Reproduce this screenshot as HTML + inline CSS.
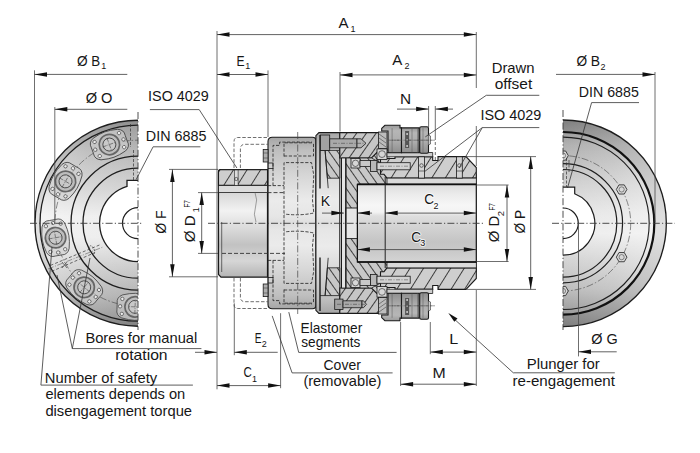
<!DOCTYPE html>
<html><head><meta charset="utf-8"><style>
html,body{margin:0;padding:0;background:#fff;}
svg{display:block;}
text{font-family:"Liberation Sans",sans-serif;}
</style></head><body>
<svg width="700" height="453" viewBox="0 0 700 453">
<rect width="700" height="453" fill="#fff"/>
<defs>
<linearGradient id="discL" x1="0" y1="120" x2="0" y2="326" gradientUnits="userSpaceOnUse">
 <stop offset="0" stop-color="#9a9a9a"/><stop offset="0.15" stop-color="#b8b8b8"/>
 <stop offset="0.35" stop-color="#d6d6d6"/><stop offset="0.47" stop-color="#eeeeee"/>
 <stop offset="0.57" stop-color="#ececec"/><stop offset="0.7" stop-color="#d0d0d0"/>
 <stop offset="0.85" stop-color="#b4b4b4"/><stop offset="1" stop-color="#8c8c8c"/></linearGradient>
<linearGradient id="hovL" x1="138" y1="0" x2="35" y2="0" gradientUnits="userSpaceOnUse">
 <stop offset="0" stop-color="#fff" stop-opacity="0"/><stop offset="0.5" stop-color="#fff" stop-opacity="0.12"/><stop offset="1" stop-color="#fff" stop-opacity="0.4"/></linearGradient>
<linearGradient id="hovR" x1="563" y1="0" x2="666" y2="0" gradientUnits="userSpaceOnUse">
 <stop offset="0" stop-color="#fff" stop-opacity="0"/><stop offset="0.5" stop-color="#fff" stop-opacity="0.15"/><stop offset="1" stop-color="#fff" stop-opacity="0.42"/></linearGradient>
<radialGradient id="boreL" cx="0.5" cy="0.55" r="0.6">
 <stop offset="0" stop-color="#ffffff"/><stop offset="0.6" stop-color="#f0f0f0"/><stop offset="1" stop-color="#d4d4d4"/></radialGradient>
<linearGradient id="hubR" x1="0" y1="0" x2="0" y2="1">
 <stop offset="0" stop-color="#d8d8d8"/><stop offset="0.5" stop-color="#ececec"/><stop offset="1" stop-color="#cfcfcf"/></linearGradient>
<linearGradient id="discR" x1="0" y1="120" x2="0" y2="326" gradientUnits="userSpaceOnUse">
 <stop offset="0" stop-color="#8a8a8a"/><stop offset="0.12" stop-color="#b0b0b0"/>
 <stop offset="0.3" stop-color="#cfcfcf"/><stop offset="0.45" stop-color="#e6e6e6"/>
 <stop offset="0.55" stop-color="#ededed"/><stop offset="0.68" stop-color="#d4d4d4"/>
 <stop offset="0.82" stop-color="#bdbdbd"/><stop offset="1" stop-color="#8a8a8a"/></linearGradient>
<linearGradient id="bore" x1="0" y1="0" x2="0" y2="1">
 <stop offset="0" stop-color="#d0d0d0"/><stop offset="0.3" stop-color="#f2f2f2"/>
 <stop offset="0.55" stop-color="#ffffff"/><stop offset="0.8" stop-color="#d8d8d8"/>
 <stop offset="1" stop-color="#b8b8b8"/></linearGradient>
<linearGradient id="metal" x1="0" y1="0" x2="0" y2="1">
 <stop offset="0" stop-color="#bdbdbd"/><stop offset="0.25" stop-color="#e4e4e4"/>
 <stop offset="0.45" stop-color="#f7f7f7"/><stop offset="0.7" stop-color="#c9c9c9"/>
 <stop offset="1" stop-color="#a8a8a8"/></linearGradient>
<linearGradient id="flange" x1="0" y1="0" x2="0" y2="1">
 <stop offset="0" stop-color="#a9a9a9"/><stop offset="0.15" stop-color="#c6c6c6"/>
 <stop offset="0.45" stop-color="#dcdcdc"/><stop offset="0.6" stop-color="#d4d4d4"/>
 <stop offset="0.85" stop-color="#c0c0c0"/><stop offset="1" stop-color="#9e9e9e"/></linearGradient>
<linearGradient id="plunger" x1="0" y1="0" x2="0" y2="1">
 <stop offset="0" stop-color="#8a8a8a"/><stop offset="0.3" stop-color="#b0b0b0"/>
 <stop offset="0.55" stop-color="#9a9a9a"/><stop offset="1" stop-color="#6e6e6e"/></linearGradient>
<pattern id="hatchA" patternUnits="userSpaceOnUse" width="6" height="6" patternTransform="rotate(45)">
 <rect width="6" height="6" fill="#c4c4c4"/><line x1="0" y1="0" x2="0" y2="6" stroke="#3c3c3c" stroke-width="0.8"/></pattern>
<pattern id="hatchB" patternUnits="userSpaceOnUse" width="6" height="6" patternTransform="rotate(-45)">
 <rect width="6" height="6" fill="#c8c8c8"/><line x1="0" y1="0" x2="0" y2="6" stroke="#3c3c3c" stroke-width="0.8"/></pattern>
<clipPath id="clipL"><rect x="0" y="0" width="138" height="453"/></clipPath>
<clipPath id="clipR"><rect x="563" y="0" width="137" height="453"/></clipPath>
</defs>
<g clip-path="url(#clipL)">
<circle cx="138" cy="223.2" r="103" fill="url(#discL)" stroke="#1e1e1e" stroke-width="1.4"/>
<circle cx="138" cy="223.2" r="102.3" fill="url(#hovL)"/>
<circle cx="138" cy="223.2" r="100.5" fill="none" stroke="#000" stroke-opacity="0.07" stroke-width="5"/>
<circle cx="138" cy="223.2" r="98" fill="none" stroke="#1e1e1e" stroke-width="1.3"/>
<circle cx="138" cy="223.2" r="67" fill="none" stroke="#1e1e1e" stroke-width="1.3"/>
<circle cx="138" cy="223.2" r="55" fill="none" stroke="#1e1e1e" stroke-width="1.3"/>
<path d="M138,180.29999999999998 L127,180.29999999999998 L127,186.41 A38.4,38.4 0 1 0 149,186.41 L149,180.29999999999998 Z" fill="#fff" stroke="#1e1e1e" stroke-width="1.3"/>
<circle cx="138" cy="223.2" r="15.5" fill="#fff" stroke="#1e1e1e" stroke-width="1.2"/>
<circle cx="138" cy="223.2" r="83" fill="none" stroke="#444" stroke-width="0.6" stroke-dasharray="7,2,1.5,2"/>
<g transform="translate(109.37,144.55) rotate(-20)">
<path d="M-18,-3 Q-19,-9 -13,-11.5 L-6,-13 Q0,-14 6,-13 L13,-11.5 Q19,-9 18,-3 L18,3 Q19,9 13,11.5 L6,13 Q0,14 -6,13 L-13,11.5 Q-19,9 -18,3 Z" fill="#cfcfcf" fill-opacity="0.6" stroke="#3a3a3a" stroke-width="0.75"/>
<circle r="10.2" fill="#bdbdbd" stroke="#666" stroke-width="1.7"/>
<circle r="6.5" fill="#c9c9c9" stroke="#3a3a3a" stroke-width="0.8"/>
<circle cx="-15" cy="0" r="1.7" fill="#ececec" stroke="#333" stroke-width="0.6"/>
<circle cx="15" cy="0" r="1.7" fill="#ececec" stroke="#333" stroke-width="0.6"/>
<circle cx="-13" cy="-7.5" r="1.7" fill="#ececec" stroke="#333" stroke-width="0.6"/>
<circle cx="-13" cy="7.5" r="1.7" fill="#ececec" stroke="#333" stroke-width="0.6"/>
<circle cx="13" cy="-7.5" r="1.7" fill="#ececec" stroke="#333" stroke-width="0.6"/>
<circle cx="13" cy="7.5" r="1.7" fill="#ececec" stroke="#333" stroke-width="0.6"/>
<line x1="-7" y1="0" x2="7" y2="0" stroke="#333" stroke-width="0.5" stroke-dasharray="4,1,1,1"/><line x1="0" y1="-7" x2="0" y2="7" stroke="#333" stroke-width="0.5" stroke-dasharray="4,1,1,1"/>
</g>
<g transform="translate(65.51,181.35) rotate(-60)">
<path d="M-18,-3 Q-19,-9 -13,-11.5 L-6,-13 Q0,-14 6,-13 L13,-11.5 Q19,-9 18,-3 L18,3 Q19,9 13,11.5 L6,13 Q0,14 -6,13 L-13,11.5 Q-19,9 -18,3 Z" fill="#cfcfcf" fill-opacity="0.6" stroke="#3a3a3a" stroke-width="0.75"/>
<circle r="10.2" fill="#bdbdbd" stroke="#666" stroke-width="1.7"/>
<circle r="6.5" fill="#c9c9c9" stroke="#3a3a3a" stroke-width="0.8"/>
<circle cx="-15" cy="0" r="1.7" fill="#ececec" stroke="#333" stroke-width="0.6"/>
<circle cx="15" cy="0" r="1.7" fill="#ececec" stroke="#333" stroke-width="0.6"/>
<circle cx="-13" cy="-7.5" r="1.7" fill="#ececec" stroke="#333" stroke-width="0.6"/>
<circle cx="-13" cy="7.5" r="1.7" fill="#ececec" stroke="#333" stroke-width="0.6"/>
<circle cx="13" cy="-7.5" r="1.7" fill="#ececec" stroke="#333" stroke-width="0.6"/>
<circle cx="13" cy="7.5" r="1.7" fill="#ececec" stroke="#333" stroke-width="0.6"/>
<line x1="-7" y1="0" x2="7" y2="0" stroke="#333" stroke-width="0.5" stroke-dasharray="4,1,1,1"/><line x1="0" y1="-7" x2="0" y2="7" stroke="#333" stroke-width="0.5" stroke-dasharray="4,1,1,1"/>
</g>
<g transform="translate(55.57,237.73) rotate(-100)">
<path d="M-18,-3 Q-19,-9 -13,-11.5 L-6,-13 Q0,-14 6,-13 L13,-11.5 Q19,-9 18,-3 L18,3 Q19,9 13,11.5 L6,13 Q0,14 -6,13 L-13,11.5 Q-19,9 -18,3 Z" fill="#cfcfcf" fill-opacity="0.6" stroke="#3a3a3a" stroke-width="0.75"/>
<circle r="10.2" fill="#bdbdbd" stroke="#666" stroke-width="1.7"/>
<circle r="6.5" fill="#c9c9c9" stroke="#3a3a3a" stroke-width="0.8"/>
<circle cx="-15" cy="0" r="1.7" fill="#ececec" stroke="#333" stroke-width="0.6"/>
<circle cx="15" cy="0" r="1.7" fill="#ececec" stroke="#333" stroke-width="0.6"/>
<circle cx="-13" cy="-7.5" r="1.7" fill="#ececec" stroke="#333" stroke-width="0.6"/>
<circle cx="-13" cy="7.5" r="1.7" fill="#ececec" stroke="#333" stroke-width="0.6"/>
<circle cx="13" cy="-7.5" r="1.7" fill="#ececec" stroke="#333" stroke-width="0.6"/>
<circle cx="13" cy="7.5" r="1.7" fill="#ececec" stroke="#333" stroke-width="0.6"/>
<line x1="-7" y1="0" x2="7" y2="0" stroke="#333" stroke-width="0.5" stroke-dasharray="4,1,1,1"/><line x1="0" y1="-7" x2="0" y2="7" stroke="#333" stroke-width="0.5" stroke-dasharray="4,1,1,1"/>
</g>
<g transform="translate(84.20,287.32) rotate(-140)">
<path d="M-18,-3 Q-19,-9 -13,-11.5 L-6,-13 Q0,-14 6,-13 L13,-11.5 Q19,-9 18,-3 L18,3 Q19,9 13,11.5 L6,13 Q0,14 -6,13 L-13,11.5 Q-19,9 -18,3 Z" fill="#cfcfcf" fill-opacity="0.6" stroke="#3a3a3a" stroke-width="0.75"/>
<circle r="10.2" fill="#bdbdbd" stroke="#666" stroke-width="1.7"/>
<circle r="6.5" fill="#c9c9c9" stroke="#3a3a3a" stroke-width="0.8"/>
<circle cx="-15" cy="0" r="1.7" fill="#ececec" stroke="#333" stroke-width="0.6"/>
<circle cx="15" cy="0" r="1.7" fill="#ececec" stroke="#333" stroke-width="0.6"/>
<circle cx="-13" cy="-7.5" r="1.7" fill="#ececec" stroke="#333" stroke-width="0.6"/>
<circle cx="-13" cy="7.5" r="1.7" fill="#ececec" stroke="#333" stroke-width="0.6"/>
<circle cx="13" cy="-7.5" r="1.7" fill="#ececec" stroke="#333" stroke-width="0.6"/>
<circle cx="13" cy="7.5" r="1.7" fill="#ececec" stroke="#333" stroke-width="0.6"/>
<line x1="-7" y1="0" x2="7" y2="0" stroke="#333" stroke-width="0.5" stroke-dasharray="4,1,1,1"/><line x1="0" y1="-7" x2="0" y2="7" stroke="#333" stroke-width="0.5" stroke-dasharray="4,1,1,1"/>
</g>
<g transform="translate(135.08,306.85) rotate(-178)">
<path d="M-18,-3 Q-19,-9 -13,-11.5 L-6,-13 Q0,-14 6,-13 L13,-11.5 Q19,-9 18,-3 L18,3 Q19,9 13,11.5 L6,13 Q0,14 -6,13 L-13,11.5 Q-19,9 -18,3 Z" fill="#cfcfcf" fill-opacity="0.6" stroke="#3a3a3a" stroke-width="0.75"/>
<circle r="10.2" fill="#bdbdbd" stroke="#666" stroke-width="1.7"/>
<circle r="6.5" fill="#c9c9c9" stroke="#3a3a3a" stroke-width="0.8"/>
<circle cx="-15" cy="0" r="1.7" fill="#ececec" stroke="#333" stroke-width="0.6"/>
<circle cx="15" cy="0" r="1.7" fill="#ececec" stroke="#333" stroke-width="0.6"/>
<circle cx="-13" cy="-7.5" r="1.7" fill="#ececec" stroke="#333" stroke-width="0.6"/>
<circle cx="-13" cy="7.5" r="1.7" fill="#ececec" stroke="#333" stroke-width="0.6"/>
<circle cx="13" cy="-7.5" r="1.7" fill="#ececec" stroke="#333" stroke-width="0.6"/>
<circle cx="13" cy="7.5" r="1.7" fill="#ececec" stroke="#333" stroke-width="0.6"/>
<line x1="-7" y1="0" x2="7" y2="0" stroke="#333" stroke-width="0.5" stroke-dasharray="4,1,1,1"/><line x1="0" y1="-7" x2="0" y2="7" stroke="#333" stroke-width="0.5" stroke-dasharray="4,1,1,1"/>
</g>
<path d="M50.5,265.4 L99.7,244.9 M51.6,271.4 L94.7,252.7" fill="none" stroke="#333" stroke-width="0.7" stroke-dasharray="3,2"/>
<path d="M48,269 L103,247" fill="none" stroke="#444" stroke-width="0.5" stroke-dasharray="6,1.5,1,1.5"/>
<path d="M62,262 L67,268 M67,262 L62,268" stroke="#333" stroke-width="0.6"/>
<ellipse cx="92" cy="250" rx="2.2" ry="4.5" transform="rotate(-22 92 250)" fill="none" stroke="#333" stroke-width="0.6" stroke-dasharray="2,1"/>
<path d="M133.5,150 L133.5,180 M130.5,124 L130.5,147" stroke="#333" stroke-width="0.7" stroke-dasharray="3,1.5"/>
</g>
<line x1="138.00" y1="112.00" x2="138.00" y2="330.00" stroke="#3a3a3a" stroke-width="0.9" stroke-dasharray="7,2.2,1.2,2.2"/>
<g clip-path="url(#clipR)">
<circle cx="563" cy="223.3" r="103.3" fill="url(#discR)" stroke="#1e1e1e" stroke-width="1.4"/>
<circle cx="563" cy="223.3" r="102.6" fill="url(#hovR)"/>
<circle cx="563" cy="223.3" r="97" fill="none" stroke="#000" stroke-opacity="0.08" stroke-width="12"/>
<circle cx="563" cy="223.3" r="91.3" fill="none" stroke="#111" stroke-width="2.2"/>
<circle cx="563" cy="223.3" r="86.2" fill="none" stroke="#1e1e1e" stroke-width="1.1"/>
<circle cx="563" cy="223.3" r="59.6" fill="none" stroke="#1e1e1e" stroke-width="1.2"/>
<circle cx="563" cy="223.3" r="53.8" fill="none" stroke="#1e1e1e" stroke-width="1.2"/>
<circle cx="563" cy="223.3" r="67.7" fill="none" stroke="#444" stroke-width="0.6" stroke-dasharray="7,2,1.5,2"/>
<path d="M563,187.10000000000002 L574.7,187.10000000000002 L574.7,193.73 A31.8,31.8 0 1 1 551.3,193.73 L551.3,187.10000000000002 Z" fill="#fff" stroke="#1e1e1e" stroke-width="1.2"/>
<circle cx="563" cy="223.3" r="15.3" fill="#fff" stroke="#1e1e1e" stroke-width="1.2"/>
<polygon points="568.30,155.60 565.65,160.19 560.35,160.19 557.70,155.60 560.35,151.01 565.65,151.01" fill="#d8d8d8" stroke="#333" stroke-width="0.9"/>
<circle cx="563.00" cy="155.60" r="2.6" fill="none" stroke="#444" stroke-width="0.6"/>
<polygon points="626.93,189.45 624.28,194.04 618.98,194.04 616.33,189.45 618.98,184.86 624.28,184.86" fill="#d8d8d8" stroke="#333" stroke-width="0.9"/>
<circle cx="621.63" cy="189.45" r="2.6" fill="none" stroke="#444" stroke-width="0.6"/>
<polygon points="626.93,257.15 624.28,261.74 618.98,261.74 616.33,257.15 618.98,252.56 624.28,252.56" fill="#d8d8d8" stroke="#333" stroke-width="0.9"/>
<circle cx="621.63" cy="257.15" r="2.6" fill="none" stroke="#444" stroke-width="0.6"/>
<polygon points="568.30,291.00 565.65,295.59 560.35,295.59 557.70,291.00 560.35,286.41 565.65,286.41" fill="#d8d8d8" stroke="#333" stroke-width="0.9"/>
<circle cx="563.00" cy="291.00" r="2.6" fill="none" stroke="#444" stroke-width="0.6"/>
<path d="M566.5,158 L566.5,187 M569,160 L569,172" stroke="#333" stroke-width="0.7" stroke-dasharray="3,1.5"/>
</g>
<line x1="563.00" y1="110.00" x2="563.00" y2="330.00" stroke="#3a3a3a" stroke-width="0.9" stroke-dasharray="7,2.2,1.2,2.2"/>
<defs>
<pattern id="hA" patternUnits="userSpaceOnUse" width="8" height="8" patternTransform="rotate(35)">
 <rect width="8" height="8" fill="#c6c6c6"/><line x1="0.5" y1="0" x2="0.5" y2="8" stroke="#2e2e2e" stroke-width="0.9"/></pattern>
<pattern id="hB" patternUnits="userSpaceOnUse" width="7" height="7" patternTransform="rotate(-35)">
 <rect width="7" height="7" fill="#c8c8c8"/><line x1="0.5" y1="0" x2="0.5" y2="7" stroke="#2e2e2e" stroke-width="0.9"/></pattern>
<pattern id="hC" patternUnits="userSpaceOnUse" width="11.5" height="11.5" patternTransform="rotate(32)">
 <rect width="11.5" height="11.5" fill="#cecece"/><line x1="0.5" y1="0" x2="0.5" y2="11.5" stroke="#2e2e2e" stroke-width="0.9"/></pattern>
<pattern id="hAm" patternUnits="userSpaceOnUse" width="8" height="8" patternTransform="rotate(-35)">
 <rect width="8" height="8" fill="#c6c6c6"/><line x1="0.5" y1="0" x2="0.5" y2="8" stroke="#2e2e2e" stroke-width="0.9"/></pattern>
<pattern id="hBm" patternUnits="userSpaceOnUse" width="7" height="7" patternTransform="rotate(35)">
 <rect width="7" height="7" fill="#c8c8c8"/><line x1="0.5" y1="0" x2="0.5" y2="7" stroke="#2e2e2e" stroke-width="0.9"/></pattern>
<pattern id="hCm" patternUnits="userSpaceOnUse" width="11.5" height="11.5" patternTransform="rotate(-32)">
 <rect width="11.5" height="11.5" fill="#cecece"/><line x1="0.5" y1="0" x2="0.5" y2="11.5" stroke="#2e2e2e" stroke-width="0.9"/></pattern>
<linearGradient id="rfl" x1="0" y1="132.6" x2="0" y2="313.4" gradientUnits="userSpaceOnUse">
 <stop offset="0" stop-color="#a6a6a6"/><stop offset="0.075" stop-color="#bebebe"/>
 <stop offset="0.22" stop-color="#d6d6d6"/><stop offset="0.37" stop-color="#ebebeb"/>
 <stop offset="0.46" stop-color="#e6e6e6"/><stop offset="0.58" stop-color="#d0d0d0"/>
 <stop offset="0.69" stop-color="#c4c4c4"/><stop offset="0.83" stop-color="#cbcbcb"/>
 <stop offset="0.95" stop-color="#b6b6b6"/><stop offset="1" stop-color="#a0a0a0"/></linearGradient>
<linearGradient id="efl" x1="0" y1="137.3" x2="0" y2="308.7" gradientUnits="userSpaceOnUse">
 <stop offset="0" stop-color="#a6a6a6"/><stop offset="0.075" stop-color="#bebebe"/>
 <stop offset="0.22" stop-color="#d6d6d6"/><stop offset="0.37" stop-color="#ebebeb"/>
 <stop offset="0.46" stop-color="#e6e6e6"/><stop offset="0.58" stop-color="#d0d0d0"/>
 <stop offset="0.69" stop-color="#c4c4c4"/><stop offset="0.83" stop-color="#cbcbcb"/>
 <stop offset="0.95" stop-color="#b6b6b6"/><stop offset="1" stop-color="#a0a0a0"/></linearGradient>
<linearGradient id="pl" x1="0" y1="0" x2="0" y2="1">
 <stop offset="0" stop-color="#9a9a9a"/><stop offset="0.2" stop-color="#b6b6b6"/>
 <stop offset="0.55" stop-color="#adadad"/><stop offset="1" stop-color="#8e8e8e"/></linearGradient>
<linearGradient id="hubbore" x1="0" y1="184" x2="0" y2="262" gradientUnits="userSpaceOnUse">
 <stop offset="0" stop-color="#dcdcdc"/><stop offset="0.141" stop-color="#ececec"/>
 <stop offset="0.269" stop-color="#f6f6f6"/><stop offset="0.359" stop-color="#f3f3f3"/>
 <stop offset="0.41" stop-color="#dedede"/><stop offset="0.59" stop-color="#d0d0d0"/>
 <stop offset="0.744" stop-color="#c4c4c4"/><stop offset="0.872" stop-color="#cacaca"/><stop offset="1" stop-color="#d4d4d4"/></linearGradient>
<linearGradient id="lhub" x1="0" y1="170" x2="0" y2="277" gradientUnits="userSpaceOnUse">
 <stop offset="0" stop-color="#c4c4c4"/><stop offset="0.22" stop-color="#d8d8d8"/>
 <stop offset="0.38" stop-color="#f2f2f2"/><stop offset="0.55" stop-color="#dadada"/>
 <stop offset="0.7" stop-color="#c2c2c2"/><stop offset="0.85" stop-color="#d6d6d6"/><stop offset="1" stop-color="#b4b4b4"/></linearGradient>
</defs>
<g><rect x="366" y="146" width="24" height="22" fill="url(#hB)"/><path d="M268,223 L268,141.5 Q268,137.3 272.3,137.3 L312.5,137.3 Q315.9,137.3 315.9,140.5 L315.9,223" fill="url(#efl)" stroke="#1a1a1a" stroke-width="1.1"/><rect x="263.2" y="149.4" width="4.8" height="12.6" fill="#b0b0b0" stroke="#1a1a1a" stroke-width="0.8"/><line x1="263.2" y1="153" x2="268" y2="153" stroke="#333" stroke-width="0.5"/><line x1="263.2" y1="158" x2="268" y2="158" stroke="#333" stroke-width="0.5"/><rect x="268.2" y="163" width="4.8" height="5.6" fill="#d0d0d0" stroke="#1a1a1a" stroke-width="0.8"/><path d="M273,185.6 L273,145.4 L279.6,145.4 L279.6,142.1 L312,142.1 M268,185.6 L284,185.6" fill="none" stroke="#2a2a2a" stroke-width="0.85" stroke-dasharray="3.2,1.6"/><path d="M284,156.5 L284,142.8 L313.5,142.8 M284,156 L313.5,156 L313.5,143" fill="none" stroke="#2a2a2a" stroke-width="0.85" stroke-dasharray="3.2,1.6"/><path d="M284,223 L284,162.6 L311.5,162.6 L313.8,175 L312.5,200 L313.8,213 Q300,216 284,214" fill="none" stroke="#2a2a2a" stroke-width="0.85" stroke-dasharray="3.2,1.6"/><path d="M315.9,223 L315.9,135.7 L318.9,132.6 L339.8,132.6 L339.8,223" fill="url(#rfl)" stroke="#1a1a1a" stroke-width="1.1"/><path d="M325.1,150.4 L339.8,150.4 L339.8,178.2 L327.4,178.2 Z" fill="url(#hB)" stroke="#1a1a1a" stroke-width="0.8"/><path d="M320,150.4 L325.1,150.4 L328.2,188.2" fill="none" stroke="#1a1a1a" stroke-width="0.8"/><line x1="320" y1="135" x2="320" y2="188.5" stroke="#1a1a1a" stroke-width="1.4"/><path d="M339.8,158 L339.8,132.6 L380.5,132.6 L380.5,149 L371.5,158 Z" fill="url(#hA)" stroke="#1a1a1a" stroke-width="1.1"/><path d="M341.5,223 L341.5,158 L345.9,158 L345.9,223" fill="#e4e4e4" stroke="#1a1a1a" stroke-width="0.8"/><path d="M345.9,223 L345.9,158 L371.5,158 L386,166 L386,174.3 L476.3,174.3 L476.3,184.4 L357.4,184.4 L357.4,223" fill="url(#hB)" stroke="#1a1a1a" stroke-width="0.8"/><path d="M380.5,174.3 L380.5,158.5 L395,158.5 L395,156.6 L432.7,156.6 L432.7,160.5 L438,160.5 L438,156.6 L466,156.6 L476.3,167.5 L476.3,178.1 L387,178.1 L384,174.3 Z" fill="url(#hC)" stroke="#1a1a1a" stroke-width="1.1"/><rect x="387" y="178.1" width="89.3" height="6.3" fill="#dadada" stroke="#1a1a1a" stroke-width="0.8"/><rect x="351" y="158.6" width="9" height="9.4" fill="#d6d6d6" stroke="#1a1a1a" stroke-width="0.8"/><circle cx="355.5" cy="163.3" r="3.2" fill="none" stroke="#222" stroke-width="0.6"/><path d="M360,160.5 L370.5,160.5 L370.5,166.5 L360,166.5 Z" fill="#c8c8c8" stroke="#1a1a1a" stroke-width="0.8"/><rect x="370.5" y="160.5" width="6.5" height="11" fill="#b8b8b8" stroke="#1a1a1a" stroke-width="0.8"/><rect x="377" y="162.7" width="33.2" height="7.1" fill="#d2d2d2" stroke="#1a1a1a" stroke-width="0.8"/><line x1="380" y1="166.2" x2="408" y2="166.2" stroke="#444" stroke-width="0.5" stroke-dasharray="4,1.5,1,1.5"/><rect x="377" y="148.9" width="10" height="10.5" fill="#d6d6d6" stroke="#1a1a1a" stroke-width="0.8"/><circle cx="382" cy="154.1" r="3.4" fill="none" stroke="#222" stroke-width="0.6"/><rect x="378.5" y="132" width="8.5" height="16.5" fill="#bdbdbd" stroke="#1a1a1a" stroke-width="0.8"/><path d="M379,134 L386,139 M379,138 L386,143 M379,142 L386,147" stroke="#444" stroke-width="0.6"/><path d="M387,152.5 L432.7,152.5 L432.7,156.8 L387,156.8 Z" fill="#cdcdcd" stroke="#1a1a1a" stroke-width="0.8"/><path d="M381.7,128.4 L384.9,125.3 L400,125.3 L400,127.9 L401.5,127.9 L401.5,152.8 L388,152.8 L388,131 L381.7,131 Z" fill="url(#pl)" stroke="#1a1a1a" stroke-width="1.1"/><path d="M401.5,127.9 L419.1,127.9 L419.1,152.8 L401.5,152.8 Z" fill="url(#pl)" stroke="#1a1a1a" stroke-width="1.1"/><path d="M419.7,128.3 Q419.7,126.8 421.2,126.8 L427,126.8 Q428.5,126.8 428.5,128.3 L428.5,151.8 Q428.5,153.3 427,153.3 L421.2,153.3 Q419.7,153.3 419.7,151.8 Z" fill="url(#pl)" stroke="#1a1a1a" stroke-width="1.1"/><path d="M428.5,135 L430.5,136 L430.5,144 L428.5,145" fill="#ccc" stroke="#333" stroke-width="0.6"/><rect x="405.1" y="131" width="4" height="17" fill="#555"/><circle cx="407.1" cy="134" r="0.9" fill="#ddd"/><circle cx="407.1" cy="140" r="0.9" fill="#ddd"/><circle cx="407.1" cy="146" r="0.9" fill="#ddd"/><line x1="392.1" y1="128.2" x2="392.1" y2="152.5" stroke="#555" stroke-width="0.5"/><line x1="412" y1="128.2" x2="412" y2="152.5" stroke="#555" stroke-width="0.5"/><line x1="417.6" y1="128.2" x2="417.6" y2="152.5" stroke="#555" stroke-width="0.5"/><line x1="423" y1="128.2" x2="423" y2="152.5" stroke="#555" stroke-width="0.5"/><line x1="388" y1="140.2" x2="432" y2="140.2" stroke="#444" stroke-width="0.5" stroke-dasharray="5,1.5,1,1.5"/><rect x="320.5" y="135" width="9.2" height="15.4" fill="#a2a2a2" stroke="#1a1a1a" stroke-width="0.8"/><path d="M329.7,138.8 L357,138.8 L357,147.8 L329.7,147.8 Z" fill="#a9a9a9" stroke="#1a1a1a" stroke-width="0.8"/><path d="M357,138.8 L361,138.8 L366,143.3 L361,147.8 L357,147.8 Z" fill="#b4b4b4" stroke="#1a1a1a" stroke-width="0.8"/><line x1="333" y1="143.3" x2="364" y2="143.3" stroke="#333" stroke-width="0.5" stroke-dasharray="4,1.5,1,1.5"/><rect x="418.6" y="156.8" width="5.8" height="21.3" fill="#d4d4d4" stroke="#1a1a1a" stroke-width="0.8"/><circle cx="421.5" cy="165.5" r="1.8" fill="none" stroke="#222" stroke-width="0.6"/><line x1="418.6" y1="171" x2="424.40000000000003" y2="171" stroke="#222" stroke-width="0.6"/><rect x="456.5" y="156.8" width="5.8" height="21.3" fill="#d4d4d4" stroke="#1a1a1a" stroke-width="0.8"/><circle cx="459.4" cy="165.5" r="1.8" fill="none" stroke="#222" stroke-width="0.6"/><line x1="456.5" y1="171" x2="462.3" y2="171" stroke="#222" stroke-width="0.6"/></g>
<g transform="matrix(1,0,0,-1,0,446.0)"><rect x="366" y="146" width="24" height="22" fill="url(#hBm)"/><path d="M268,223 L268,141.5 Q268,137.3 272.3,137.3 L312.5,137.3 Q315.9,137.3 315.9,140.5 L315.9,223" fill="url(#efl)" stroke="#1a1a1a" stroke-width="1.1"/><rect x="263.2" y="149.4" width="4.8" height="12.6" fill="#b0b0b0" stroke="#1a1a1a" stroke-width="0.8"/><line x1="263.2" y1="153" x2="268" y2="153" stroke="#333" stroke-width="0.5"/><line x1="263.2" y1="158" x2="268" y2="158" stroke="#333" stroke-width="0.5"/><rect x="268.2" y="163" width="4.8" height="5.6" fill="#d0d0d0" stroke="#1a1a1a" stroke-width="0.8"/><path d="M273,185.6 L273,145.4 L279.6,145.4 L279.6,142.1 L312,142.1 M268,185.6 L284,185.6" fill="none" stroke="#2a2a2a" stroke-width="0.85" stroke-dasharray="3.2,1.6"/><path d="M284,156.5 L284,142.8 L313.5,142.8 M284,156 L313.5,156 L313.5,143" fill="none" stroke="#2a2a2a" stroke-width="0.85" stroke-dasharray="3.2,1.6"/><path d="M284,223 L284,162.6 L311.5,162.6 L313.8,175 L312.5,200 L313.8,213 Q300,216 284,214" fill="none" stroke="#2a2a2a" stroke-width="0.85" stroke-dasharray="3.2,1.6"/><path d="M315.9,223 L315.9,135.7 L318.9,132.6 L339.8,132.6 L339.8,223" fill="url(#rfl)" stroke="#1a1a1a" stroke-width="1.1"/><path d="M325.1,150.4 L339.8,150.4 L339.8,178.2 L327.4,178.2 Z" fill="url(#hBm)" stroke="#1a1a1a" stroke-width="0.8"/><path d="M320,150.4 L325.1,150.4 L328.2,188.2" fill="none" stroke="#1a1a1a" stroke-width="0.8"/><line x1="320" y1="135" x2="320" y2="188.5" stroke="#1a1a1a" stroke-width="1.4"/><path d="M339.8,158 L339.8,132.6 L380.5,132.6 L380.5,149 L371.5,158 Z" fill="url(#hAm)" stroke="#1a1a1a" stroke-width="1.1"/><path d="M341.5,223 L341.5,158 L345.9,158 L345.9,223" fill="#e4e4e4" stroke="#1a1a1a" stroke-width="0.8"/><path d="M345.9,223 L345.9,158 L371.5,158 L386,166 L386,174.3 L476.3,174.3 L476.3,184.4 L357.4,184.4 L357.4,223" fill="url(#hBm)" stroke="#1a1a1a" stroke-width="0.8"/><path d="M380.5,174.3 L380.5,158.5 L395,158.5 L395,156.6 L432.7,156.6 L432.7,160.5 L438,160.5 L438,156.6 L466,156.6 L476.3,167.5 L476.3,178.1 L387,178.1 L384,174.3 Z" fill="url(#hCm)" stroke="#1a1a1a" stroke-width="1.1"/><rect x="387" y="178.1" width="89.3" height="6.3" fill="#dadada" stroke="#1a1a1a" stroke-width="0.8"/><rect x="351" y="158.6" width="9" height="9.4" fill="#d6d6d6" stroke="#1a1a1a" stroke-width="0.8"/><circle cx="355.5" cy="163.3" r="3.2" fill="none" stroke="#222" stroke-width="0.6"/><path d="M360,160.5 L370.5,160.5 L370.5,166.5 L360,166.5 Z" fill="#c8c8c8" stroke="#1a1a1a" stroke-width="0.8"/><rect x="370.5" y="160.5" width="6.5" height="11" fill="#b8b8b8" stroke="#1a1a1a" stroke-width="0.8"/><rect x="377" y="162.7" width="33.2" height="7.1" fill="#d2d2d2" stroke="#1a1a1a" stroke-width="0.8"/><line x1="380" y1="166.2" x2="408" y2="166.2" stroke="#444" stroke-width="0.5" stroke-dasharray="4,1.5,1,1.5"/><rect x="377" y="148.9" width="10" height="10.5" fill="#d6d6d6" stroke="#1a1a1a" stroke-width="0.8"/><circle cx="382" cy="154.1" r="3.4" fill="none" stroke="#222" stroke-width="0.6"/><rect x="378.5" y="132" width="8.5" height="16.5" fill="#bdbdbd" stroke="#1a1a1a" stroke-width="0.8"/><path d="M379,134 L386,139 M379,138 L386,143 M379,142 L386,147" stroke="#444" stroke-width="0.6"/><path d="M387,152.5 L432.7,152.5 L432.7,156.8 L387,156.8 Z" fill="#cdcdcd" stroke="#1a1a1a" stroke-width="0.8"/><path d="M381.7,128.4 L384.9,125.3 L400,125.3 L400,127.9 L401.5,127.9 L401.5,152.8 L388,152.8 L388,131 L381.7,131 Z" fill="url(#pl)" stroke="#1a1a1a" stroke-width="1.1"/><path d="M401.5,127.9 L419.1,127.9 L419.1,152.8 L401.5,152.8 Z" fill="url(#pl)" stroke="#1a1a1a" stroke-width="1.1"/><path d="M419.7,128.3 Q419.7,126.8 421.2,126.8 L427,126.8 Q428.5,126.8 428.5,128.3 L428.5,151.8 Q428.5,153.3 427,153.3 L421.2,153.3 Q419.7,153.3 419.7,151.8 Z" fill="url(#pl)" stroke="#1a1a1a" stroke-width="1.1"/><path d="M428.5,135 L430.5,136 L430.5,144 L428.5,145" fill="#ccc" stroke="#333" stroke-width="0.6"/><rect x="405.1" y="131" width="4" height="17" fill="#555"/><circle cx="407.1" cy="134" r="0.9" fill="#ddd"/><circle cx="407.1" cy="140" r="0.9" fill="#ddd"/><circle cx="407.1" cy="146" r="0.9" fill="#ddd"/><line x1="392.1" y1="128.2" x2="392.1" y2="152.5" stroke="#555" stroke-width="0.5"/><line x1="412" y1="128.2" x2="412" y2="152.5" stroke="#555" stroke-width="0.5"/><line x1="417.6" y1="128.2" x2="417.6" y2="152.5" stroke="#555" stroke-width="0.5"/><line x1="423" y1="128.2" x2="423" y2="152.5" stroke="#555" stroke-width="0.5"/><line x1="388" y1="140.2" x2="432" y2="140.2" stroke="#444" stroke-width="0.5" stroke-dasharray="5,1.5,1,1.5"/><rect x="334.7" y="136.5" width="8.3" height="10.4" fill="#a2a2a2" stroke="#1a1a1a" stroke-width="0.8"/><path d="M343,138.3 L362,138.3 L362,145.2 L343,145.2 Z" fill="#a9a9a9" stroke="#1a1a1a" stroke-width="0.8"/><path d="M362,138.3 L363.5,138.3 L366.5,141.7 L363.5,145.2 L362,145.2 Z" fill="#b4b4b4" stroke="#1a1a1a" stroke-width="0.8"/><line x1="337" y1="141.7" x2="365" y2="141.7" stroke="#333" stroke-width="0.5" stroke-dasharray="4,1.5,1,1.5"/></g>
<rect x="345.9" y="208" width="11.5" height="30.6" fill="#e6e6e6" stroke="#1a1a1a" stroke-width="0.9"/>
<rect x="357.4" y="184.4" width="118.9" height="77.6" fill="url(#hubbore)" stroke="#111" stroke-width="1.2"/>
<line x1="357.40" y1="184.40" x2="476.30" y2="184.40" stroke="#111" stroke-width="1.6" />
<line x1="357.40" y1="262.00" x2="476.30" y2="262.00" stroke="#111" stroke-width="1.6" />
<line x1="385.20" y1="177.00" x2="385.20" y2="268.00" stroke="#222" stroke-width="1" />
<line x1="345.90" y1="158.00" x2="345.90" y2="288.00" stroke="#1a1a1a" stroke-width="1.0" />
<line x1="341.50" y1="158.00" x2="341.50" y2="288.00" stroke="#1a1a1a" stroke-width="1.0" />
<path d="M220.5,169.7 L267.5,169.7 L267.5,277.2 L221,277.2 L218.5,274.5 L218.5,171.7 Q218.5,169.7 220.5,169.7 Z" fill="url(#lhub)" stroke="#1a1a1a" stroke-width="1.2"/>
<path d="M220.5,169.7 L267.5,169.7 L267.5,185.4 L218.5,185.4 L218.5,171.7 Q218.5,169.7 220.5,169.7 Z" fill="url(#hC)" stroke="#1a1a1a" stroke-width="1.1"/>
<rect x="218.5" y="185.4" width="49" height="7.2" fill="#dcdcdc" stroke="#1a1a1a" stroke-width="0.8"/>
<rect x="234.5" y="170" width="3.6" height="15.4" fill="#ddd" stroke="#222" stroke-width="0.6"/>
<circle cx="236.3" cy="179" r="1.6" fill="none" stroke="#222" stroke-width="0.6"/>
<line x1="221.70" y1="222.00" x2="221.70" y2="272.00" stroke="#333" stroke-width="0.7" />
<line x1="222.00" y1="253.40" x2="285.00" y2="253.40" stroke="#2a2a2a" stroke-width="0.85" stroke-dasharray="4,2"/>
<line x1="267.50" y1="192.60" x2="284.00" y2="192.60" stroke="#2a2a2a" stroke-width="0.85" stroke-dasharray="4,2"/>
<path d="M255,192.6 Q258,200 255.5,207 Q253,214 256,222" fill="none" stroke="#666" stroke-width="0.6"/>
<path d="M234,168.0 L234,141.5 Q234,137.5 238,137.5 L268,137.5" fill="none" stroke="#555" stroke-width="0.85" stroke-dasharray="3.5,1.8"/>
<path d="M240.4,168.0 L240.4,149.0 Q240.4,144.3 245,144.3 L268,144.3" fill="none" stroke="#555" stroke-width="0.85" stroke-dasharray="3.5,1.8"/>
<path d="M234,278.0 L234,304.5 Q234,308.5 238,308.5 L268,308.5" fill="none" stroke="#555" stroke-width="0.85" stroke-dasharray="3.5,1.8"/>
<path d="M240.4,278.0 L240.4,297.0 Q240.4,301.7 245,301.7 L268,301.7" fill="none" stroke="#555" stroke-width="0.85" stroke-dasharray="3.5,1.8"/>
<line x1="208.00" y1="223.30" x2="485.00" y2="223.30" stroke="#3a3a3a" stroke-width="0.9" stroke-dasharray="7,2.2,1.2,2.2"/>
<line x1="30.00" y1="223.30" x2="142.00" y2="223.30" stroke="#3a3a3a" stroke-width="0.9" stroke-dasharray="7,2.2,1.2,2.2"/>
<line x1="552.00" y1="223.30" x2="675.00" y2="223.30" stroke="#3a3a3a" stroke-width="0.9" stroke-dasharray="7,2.2,1.2,2.2"/>
<line x1="297.70" y1="132.00" x2="297.70" y2="314.00" stroke="#444" stroke-width="0.7" stroke-dasharray="7,2.2,1.2,2.2"/>
<line x1="392.00" y1="140.20" x2="435.00" y2="140.20" stroke="#444" stroke-width="0.5" stroke-dasharray="7,2.2,1.2,2.2"/>
<line x1="392.00" y1="305.80" x2="435.00" y2="305.80" stroke="#444" stroke-width="0.5" stroke-dasharray="7,2.2,1.2,2.2"/>
<line x1="217.00" y1="31.00" x2="217.00" y2="389.30" stroke="#4a4a4a" stroke-width="0.8" />
<line x1="476.30" y1="32.00" x2="476.30" y2="88.00" stroke="#4a4a4a" stroke-width="0.8" />
<line x1="268.00" y1="70.40" x2="268.00" y2="137.00" stroke="#4a4a4a" stroke-width="0.8" />
<line x1="340.00" y1="72.00" x2="340.00" y2="131.50" stroke="#4a4a4a" stroke-width="0.8" />
<line x1="34.50" y1="70.30" x2="34.50" y2="223.00" stroke="#4a4a4a" stroke-width="0.8" />
<line x1="54.80" y1="107.00" x2="54.80" y2="223.00" stroke="#4a4a4a" stroke-width="0.8" />
<line x1="655.00" y1="72.00" x2="655.00" y2="222.00" stroke="#4a4a4a" stroke-width="0.8" />
<line x1="578.50" y1="223.00" x2="578.50" y2="356.40" stroke="#4a4a4a" stroke-width="0.8" />
<line x1="476.30" y1="126.00" x2="476.30" y2="166.00" stroke="#4a4a4a" stroke-width="0.8" />
<line x1="217.00" y1="34.60" x2="476.30" y2="34.60" stroke="#3a3a3a" stroke-width="0.8" />
<polygon points="217.00,34.60 229.50,32.35 229.50,36.85" fill="#111"/>
<polygon points="476.30,34.60 463.80,32.35 463.80,36.85" fill="#111"/>
<line x1="217.00" y1="74.50" x2="268.00" y2="74.50" stroke="#3a3a3a" stroke-width="0.8" />
<polygon points="217.00,74.50 229.50,72.25 229.50,76.75" fill="#111"/>
<polygon points="268.00,74.50 255.50,72.25 255.50,76.75" fill="#111"/>
<line x1="340.00" y1="74.90" x2="476.30" y2="74.90" stroke="#3a3a3a" stroke-width="0.8" />
<polygon points="340.00,74.90 352.50,72.65 352.50,77.15" fill="#111"/>
<polygon points="476.30,74.90 463.80,72.65 463.80,77.15" fill="#111"/>
<line x1="34.50" y1="74.40" x2="127.30" y2="74.40" stroke="#3a3a3a" stroke-width="0.8" />
<polygon points="34.50,74.40 47.00,72.15 47.00,76.65" fill="#111"/>
<line x1="54.80" y1="109.30" x2="127.30" y2="109.30" stroke="#3a3a3a" stroke-width="0.8" />
<polygon points="54.80,109.30 67.30,107.05 67.30,111.55" fill="#111"/>
<line x1="556.00" y1="74.40" x2="655.00" y2="74.40" stroke="#3a3a3a" stroke-width="0.8" />
<polygon points="655.00,74.40 642.50,72.15 642.50,76.65" fill="#111"/>
<line x1="397.00" y1="109.10" x2="428.60" y2="109.10" stroke="#3a3a3a" stroke-width="0.8" />
<polygon points="428.60,109.10 416.10,106.85 416.10,111.35" fill="#111"/>
<line x1="435.40" y1="109.10" x2="453.00" y2="109.10" stroke="#3a3a3a" stroke-width="0.8" />
<polygon points="435.40,109.10 447.90,106.85 447.90,111.35" fill="#111"/>
<line x1="428.60" y1="106.00" x2="428.60" y2="127.00" stroke="#4a4a4a" stroke-width="0.8" />
<line x1="435.30" y1="106.00" x2="435.30" y2="137.00" stroke="#4a4a4a" stroke-width="0.8" />
<line x1="435.30" y1="137.00" x2="435.30" y2="160.00" stroke="#4a4a4a" stroke-width="0.8" stroke-dasharray="3,2"/>
<line x1="169.00" y1="169.40" x2="218.00" y2="169.40" stroke="#4a4a4a" stroke-width="0.8" />
<line x1="169.00" y1="276.80" x2="218.00" y2="276.80" stroke="#4a4a4a" stroke-width="0.8" />
<line x1="172.40" y1="169.40" x2="172.40" y2="276.80" stroke="#3a3a3a" stroke-width="0.8" />
<polygon points="172.40,169.40 170.15,181.90 174.65,181.90" fill="#111"/>
<polygon points="172.40,276.80 170.15,264.30 174.65,264.30" fill="#111"/>
<line x1="198.00" y1="192.60" x2="218.00" y2="192.60" stroke="#4a4a4a" stroke-width="0.8" />
<line x1="198.00" y1="253.40" x2="218.00" y2="253.40" stroke="#4a4a4a" stroke-width="0.8" />
<line x1="201.70" y1="192.60" x2="201.70" y2="253.40" stroke="#3a3a3a" stroke-width="0.8" />
<polygon points="201.70,192.60 199.45,205.10 203.95,205.10" fill="#111"/>
<polygon points="201.70,253.40 199.45,240.90 203.95,240.90" fill="#111"/>
<line x1="466.00" y1="156.60" x2="536.00" y2="156.60" stroke="#4a4a4a" stroke-width="0.8" />
<line x1="466.00" y1="289.40" x2="536.00" y2="289.40" stroke="#4a4a4a" stroke-width="0.8" />
<line x1="530.70" y1="156.60" x2="530.70" y2="289.40" stroke="#3a3a3a" stroke-width="0.8" />
<polygon points="530.70,156.60 528.45,169.10 532.95,169.10" fill="#111"/>
<polygon points="530.70,289.40 528.45,276.90 532.95,276.90" fill="#111"/>
<line x1="476.30" y1="185.00" x2="508.60" y2="185.00" stroke="#4a4a4a" stroke-width="0.8" />
<line x1="476.30" y1="261.50" x2="508.60" y2="261.50" stroke="#4a4a4a" stroke-width="0.8" />
<line x1="507.00" y1="185.00" x2="507.00" y2="261.50" stroke="#3a3a3a" stroke-width="0.8" />
<polygon points="507.00,185.00 504.75,197.50 509.25,197.50" fill="#111"/>
<polygon points="507.00,261.50 504.75,249.00 509.25,249.00" fill="#111"/>
<line x1="385.20" y1="213.10" x2="476.30" y2="213.10" stroke="#3a3a3a" stroke-width="0.8" />
<polygon points="385.20,213.10 397.70,210.85 397.70,215.35" fill="#111"/>
<polygon points="476.30,213.10 463.80,210.85 463.80,215.35" fill="#111"/>
<line x1="357.40" y1="249.60" x2="476.30" y2="249.60" stroke="#3a3a3a" stroke-width="0.8" />
<polygon points="357.40,249.60 369.90,247.35 369.90,251.85" fill="#111"/>
<polygon points="476.30,249.60 463.80,247.35 463.80,251.85" fill="#111"/>
<line x1="322.00" y1="213.10" x2="343.90" y2="213.10" stroke="#3a3a3a" stroke-width="0.8" />
<polygon points="343.90,213.10 331.40,210.85 331.40,215.35" fill="#111"/>
<line x1="357.40" y1="213.10" x2="372.00" y2="213.10" stroke="#3a3a3a" stroke-width="0.8" />
<polygon points="357.40,213.10 369.90,210.85 369.90,215.35" fill="#111"/>
<line x1="234.30" y1="303.30" x2="234.30" y2="355.20" stroke="#4a4a4a" stroke-width="0.8" />
<line x1="280.60" y1="313.20" x2="280.60" y2="388.20" stroke="#4a4a4a" stroke-width="0.8" />
<line x1="195.00" y1="352.30" x2="217.00" y2="352.30" stroke="#3a3a3a" stroke-width="0.8" />
<polygon points="217.00,352.30 204.50,350.05 204.50,354.55" fill="#111"/>
<line x1="234.30" y1="352.30" x2="277.70" y2="352.30" stroke="#3a3a3a" stroke-width="0.8" />
<polygon points="234.30,352.30 246.80,350.05 246.80,354.55" fill="#111"/>
<line x1="217.00" y1="385.60" x2="280.60" y2="385.60" stroke="#3a3a3a" stroke-width="0.8" />
<polygon points="217.00,385.60 229.50,383.35 229.50,387.85" fill="#111"/>
<polygon points="280.60,385.60 268.10,383.35 268.10,387.85" fill="#111"/>
<line x1="430.30" y1="322.00" x2="430.30" y2="354.20" stroke="#4a4a4a" stroke-width="0.8" />
<line x1="476.30" y1="290.00" x2="476.30" y2="386.00" stroke="#4a4a4a" stroke-width="0.8" />
<line x1="400.60" y1="322.00" x2="400.60" y2="386.00" stroke="#4a4a4a" stroke-width="0.8" />
<line x1="430.30" y1="352.10" x2="476.30" y2="352.10" stroke="#3a3a3a" stroke-width="0.8" />
<polygon points="430.30,352.10 442.80,349.85 442.80,354.35" fill="#111"/>
<polygon points="476.30,352.10 463.80,349.85 463.80,354.35" fill="#111"/>
<line x1="400.60" y1="384.20" x2="476.30" y2="384.20" stroke="#3a3a3a" stroke-width="0.8" />
<polygon points="400.60,384.20 413.10,381.95 413.10,386.45" fill="#111"/>
<polygon points="476.30,384.20 463.80,381.95 463.80,386.45" fill="#111"/>
<line x1="578.50" y1="351.80" x2="616.70" y2="351.80" stroke="#3a3a3a" stroke-width="0.8" />
<polygon points="578.50,351.80 591.00,349.55 591.00,354.05" fill="#111"/>
<line x1="149.90" y1="109.60" x2="199.20" y2="109.60" stroke="#333" stroke-width="0.8" />
<line x1="199.20" y1="109.60" x2="236.90" y2="168.00" stroke="#333" stroke-width="0.8" />
<line x1="153.10" y1="146.80" x2="200.40" y2="146.80" stroke="#333" stroke-width="0.8" />
<line x1="153.10" y1="146.80" x2="136.10" y2="179.60" stroke="#333" stroke-width="0.8" />
<line x1="486.30" y1="95.30" x2="539.30" y2="95.30" stroke="#333" stroke-width="0.8" />
<line x1="486.30" y1="95.30" x2="425.30" y2="136.90" stroke="#333" stroke-width="0.8" />
<line x1="482.30" y1="127.60" x2="539.30" y2="127.60" stroke="#333" stroke-width="0.8" />
<line x1="482.30" y1="127.60" x2="424.00" y2="172.00" stroke="#333" stroke-width="0.8" />
<line x1="482.30" y1="127.60" x2="459.20" y2="168.00" stroke="#333" stroke-width="0.8" />
<line x1="591.60" y1="102.60" x2="639.00" y2="102.60" stroke="#333" stroke-width="0.8" />
<line x1="591.60" y1="102.60" x2="567.50" y2="188.00" stroke="#333" stroke-width="0.8" />
<line x1="40.90" y1="385.10" x2="192.90" y2="385.10" stroke="#333" stroke-width="0.8" />
<line x1="40.90" y1="385.10" x2="52.00" y2="247.00" stroke="#333" stroke-width="0.8" />
<line x1="72.30" y1="348.60" x2="201.40" y2="348.60" stroke="#333" stroke-width="0.8" />
<line x1="72.30" y1="348.60" x2="57.00" y2="275.00" stroke="#333" stroke-width="0.8" />
<line x1="72.30" y1="348.60" x2="90.00" y2="258.00" stroke="#333" stroke-width="0.8" />
<line x1="298.70" y1="352.40" x2="396.60" y2="352.40" stroke="#333" stroke-width="0.8" />
<line x1="298.70" y1="352.40" x2="288.80" y2="312.10" stroke="#333" stroke-width="0.8" />
<line x1="292.10" y1="372.90" x2="392.60" y2="372.90" stroke="#333" stroke-width="0.8" />
<line x1="292.10" y1="372.90" x2="272.20" y2="315.90" stroke="#333" stroke-width="0.8" />
<line x1="513.30" y1="372.80" x2="614.80" y2="372.80" stroke="#333" stroke-width="0.8" />
<line x1="513.30" y1="372.80" x2="452.00" y2="317.00" stroke="#333" stroke-width="0.8" />
<polygon points="448.3,313.1 457.5,318.5 454.3,321.8" fill="#111"/>
<text x="338.57" y="27.7" font-size="15" fill="#161616" textLength="10.06" lengthAdjust="spacingAndGlyphs">A</text>
<text x="350.41" y="31.9" font-size="9" fill="#161616">1</text>
<text x="236.50" y="65.5" font-size="15" fill="#161616" textLength="8.12" lengthAdjust="spacingAndGlyphs">E</text>
<text x="245.31" y="68.5" font-size="9" fill="#161616">1</text>
<text x="392.27" y="65.1" font-size="15" fill="#161616" textLength="10.06" lengthAdjust="spacingAndGlyphs">A</text>
<text x="404.55" y="69.1" font-size="9" fill="#161616">2</text>
<text x="400.14" y="104.3" font-size="15" fill="#161616" textLength="11.12" lengthAdjust="spacingAndGlyphs">N</text>
<text x="76.93" y="65.6" font-size="15" fill="#161616" textLength="10.63" lengthAdjust="spacingAndGlyphs">Ø</text>
<text x="91.21" y="65.6" font-size="15" fill="#161616" textLength="8.90" lengthAdjust="spacingAndGlyphs">B</text>
<text x="101.31" y="68.8" font-size="9" fill="#161616">1</text>
<text x="85.69" y="102.6" font-size="15" fill="#161616" textLength="26.81" lengthAdjust="spacingAndGlyphs">Ø O</text>
<text x="576.53" y="66.3" font-size="15" fill="#161616" textLength="10.63" lengthAdjust="spacingAndGlyphs">Ø</text>
<text x="590.86" y="66.3" font-size="15" fill="#161616" textLength="9.27" lengthAdjust="spacingAndGlyphs">B</text>
<text x="600.55" y="69.5" font-size="9" fill="#161616">2</text>
<text x="148.07" y="101.4" font-size="15" fill="#161616" textLength="60.81" lengthAdjust="spacingAndGlyphs">ISO 4029</text>
<text x="145.82" y="140.7" font-size="15" fill="#161616" textLength="60.58" lengthAdjust="spacingAndGlyphs">DIN 6885</text>
<text x="491.68" y="72.8" font-size="15" fill="#161616" textLength="42.88" lengthAdjust="spacingAndGlyphs">Drawn</text>
<text x="494.66" y="89.3" font-size="15" fill="#161616" textLength="37.56" lengthAdjust="spacingAndGlyphs">offset</text>
<text x="480.47" y="119.7" font-size="15" fill="#161616" textLength="60.91" lengthAdjust="spacingAndGlyphs">ISO 4029</text>
<text x="578.84" y="96.7" font-size="15" fill="#161616" textLength="59.96" lengthAdjust="spacingAndGlyphs">DIN 6885</text>
<text x="85.39" y="343.4" font-size="15" fill="#161616" textLength="111.89" lengthAdjust="spacingAndGlyphs">Bores for manual</text>
<text x="115.26" y="360" font-size="15" fill="#161616" textLength="52.36" lengthAdjust="spacingAndGlyphs">rotation</text>
<text x="44.79" y="382.8" font-size="15" fill="#161616" textLength="112.34" lengthAdjust="spacingAndGlyphs">Number of safety</text>
<text x="45.38" y="399.4" font-size="15" fill="#161616" textLength="139.87" lengthAdjust="spacingAndGlyphs">elements depends on</text>
<text x="45.38" y="415.5" font-size="15" fill="#161616" textLength="146.67" lengthAdjust="spacingAndGlyphs">disengagement torque</text>
<text x="300.47" y="333.1" font-size="15" fill="#161616" textLength="61.86" lengthAdjust="spacingAndGlyphs">Elastomer</text>
<text x="301.22" y="347.3" font-size="15" fill="#161616" textLength="59.17" lengthAdjust="spacingAndGlyphs">segments</text>
<text x="323.49" y="369.6" font-size="15" fill="#161616" textLength="37.34" lengthAdjust="spacingAndGlyphs">Cover</text>
<text x="303.39" y="386.1" font-size="15" fill="#161616" textLength="78.01" lengthAdjust="spacingAndGlyphs">(removable)</text>
<text x="526.78" y="368.7" font-size="15" fill="#161616" textLength="72.97" lengthAdjust="spacingAndGlyphs">Plunger for</text>
<text x="512.50" y="386.2" font-size="15" fill="#161616" textLength="102.41" lengthAdjust="spacingAndGlyphs">re-engagement</text>
<text x="591.30" y="344.2" font-size="15" fill="#161616" textLength="26.48" lengthAdjust="spacingAndGlyphs">Ø G</text>
<text x="254.87" y="343" font-size="15" fill="#161616" textLength="6.77" lengthAdjust="spacingAndGlyphs">E</text>
<text x="261.85" y="347.4" font-size="9" fill="#161616">2</text>
<text x="243.41" y="377.2" font-size="15" fill="#161616" textLength="8.32" lengthAdjust="spacingAndGlyphs">C</text>
<text x="252.11" y="381.6" font-size="9" fill="#161616">1</text>
<text x="449.18" y="344.2" font-size="15" fill="#161616" textLength="8.96" lengthAdjust="spacingAndGlyphs">L</text>
<text x="432.50" y="378.1" font-size="15" fill="#161616" textLength="13.20" lengthAdjust="spacingAndGlyphs">M</text>
<text x="424.21" y="203.7" font-size="15" fill="#161616" textLength="9.81" lengthAdjust="spacingAndGlyphs" stroke="#fff" stroke-opacity="0.7" stroke-width="2" paint-order="stroke" stroke-linejoin="round">C</text>
<text x="433.45" y="208.7" font-size="9" fill="#161616" stroke="#fff" stroke-opacity="0.7" stroke-width="2" paint-order="stroke" stroke-linejoin="round">2</text>
<text x="411.31" y="241.8" font-size="15" fill="#161616" textLength="9.81" lengthAdjust="spacingAndGlyphs" stroke="#fff" stroke-opacity="0.7" stroke-width="2" paint-order="stroke" stroke-linejoin="round">C</text>
<text x="420.26" y="246.2" font-size="9" fill="#161616" stroke="#fff" stroke-opacity="0.7" stroke-width="2" paint-order="stroke" stroke-linejoin="round">3</text>
<text x="320.84" y="206" font-size="15" fill="#161616" textLength="9.42" lengthAdjust="spacingAndGlyphs" stroke="#fff" stroke-opacity="0.7" stroke-width="2" paint-order="stroke" stroke-linejoin="round">K</text>
<text x="0" y="0" font-size="15" fill="#161616" textLength="23.5" lengthAdjust="spacingAndGlyphs" transform="translate(165.5,233.8) rotate(-90)">Ø F</text>
<text x="0" y="0" font-size="15" fill="#161616" textLength="27" lengthAdjust="spacingAndGlyphs" transform="translate(195.2,242.3) rotate(-90)">Ø D</text>
<text x="0" y="0" font-size="9.5" fill="#161616" transform="translate(198.6,212.6) rotate(-90)">1</text>
<text x="0" y="0" font-size="9" fill="#161616" textLength="7.4" lengthAdjust="spacingAndGlyphs" transform="translate(189.7,207.6) rotate(-90)">F7</text>
<text x="0" y="0" font-size="15" fill="#161616" textLength="26.5" lengthAdjust="spacingAndGlyphs" transform="translate(498.6,242.2) rotate(-90)">Ø D</text>
<text x="0" y="0" font-size="9.5" fill="#161616" transform="translate(504.2,216.2) rotate(-90)">2</text>
<text x="0" y="0" font-size="9" fill="#161616" textLength="7.4" lengthAdjust="spacingAndGlyphs" transform="translate(494.8,210.6) rotate(-90)">F7</text>
<text x="0" y="0" font-size="15" fill="#161616" textLength="23.5" lengthAdjust="spacingAndGlyphs" transform="translate(525.4,233.4) rotate(-90)">Ø P</text>
</svg></body></html>
